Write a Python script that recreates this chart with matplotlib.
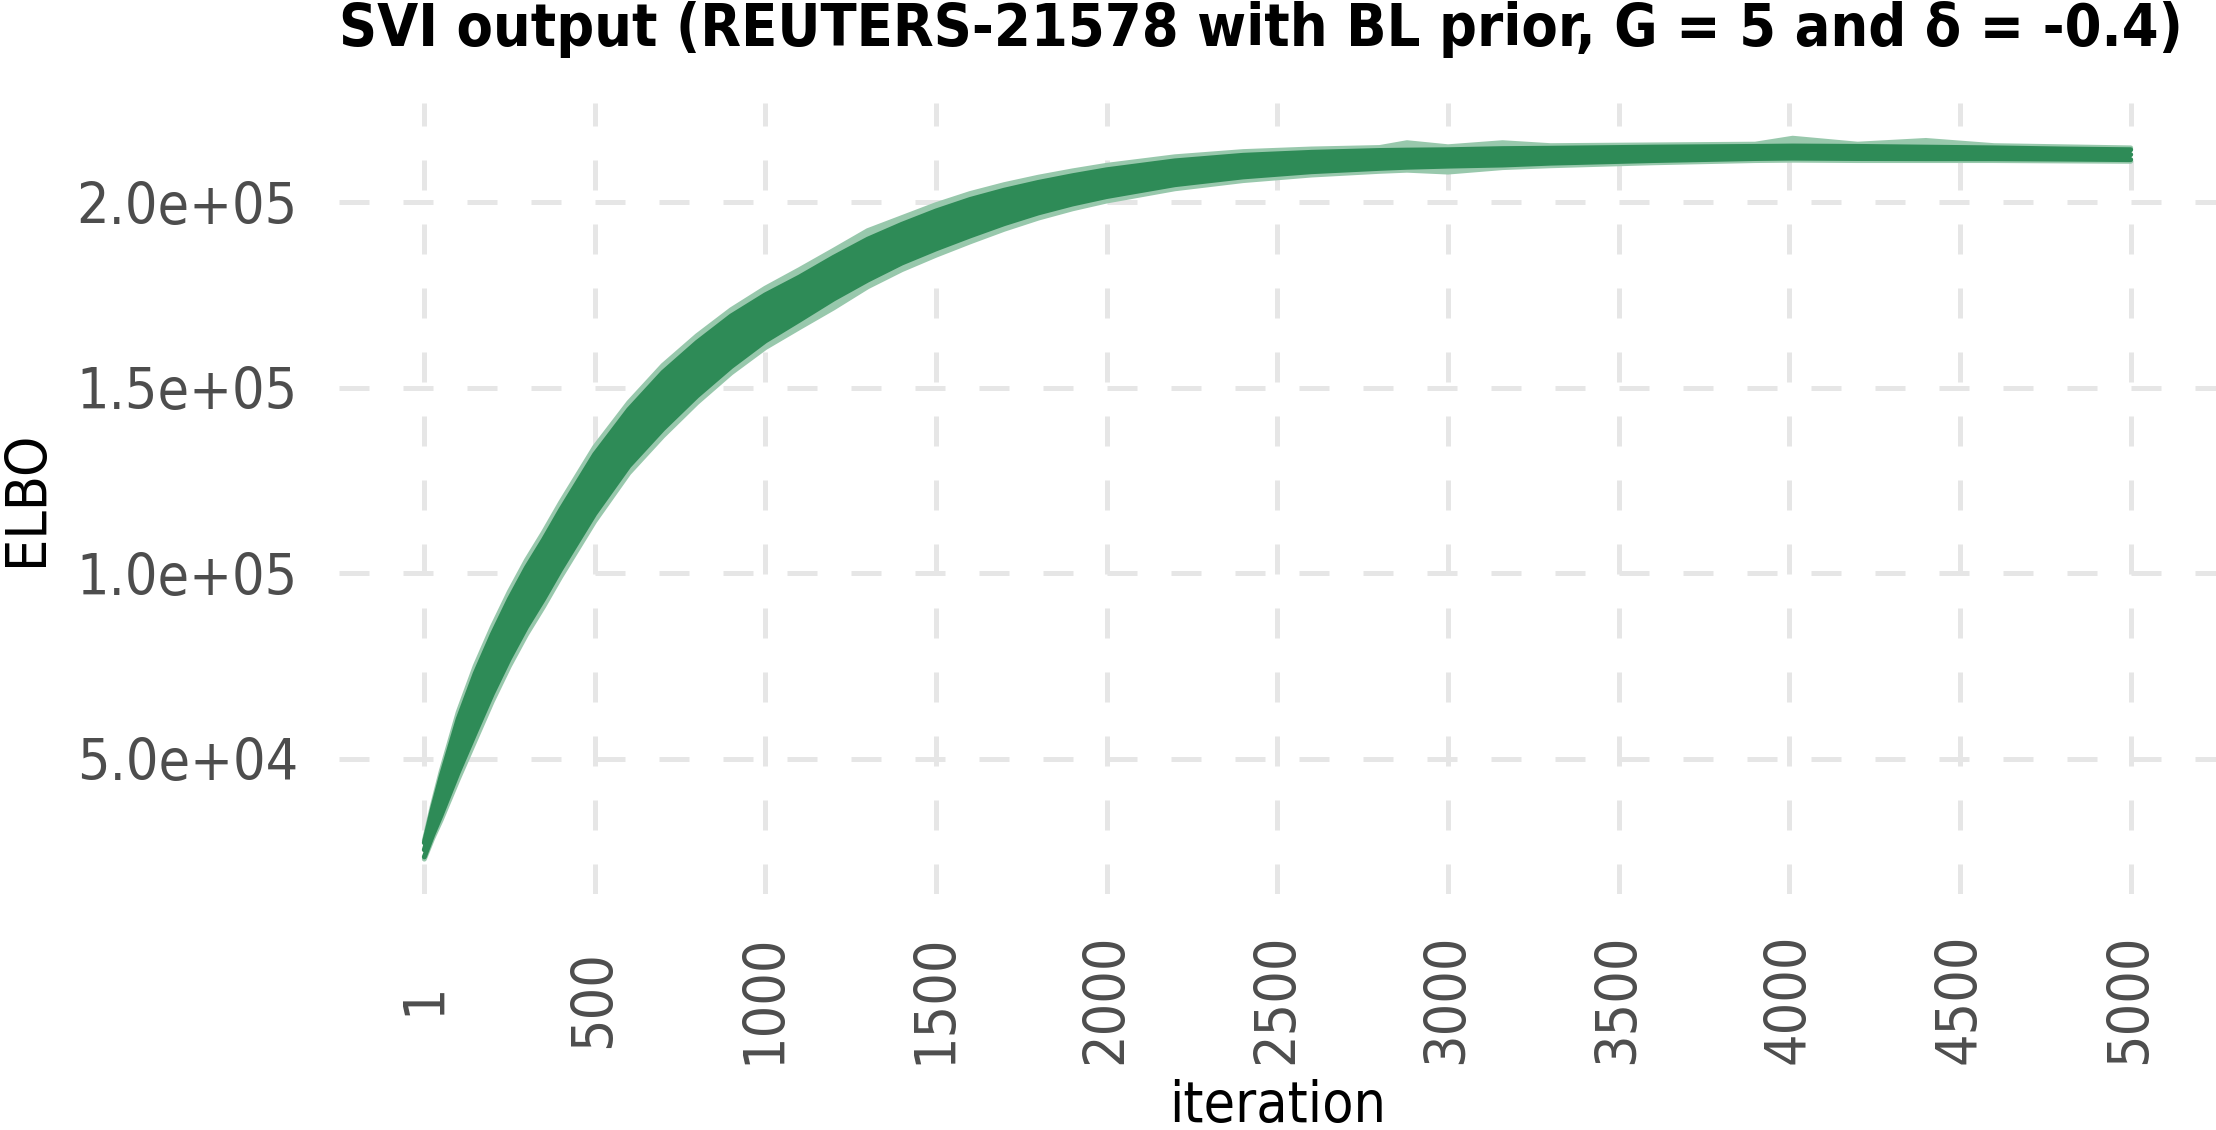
import matplotlib
matplotlib.use("Agg")
import matplotlib.pyplot as plt

# ---------- data ---------- #
ITER = [1, 25, 50, 100, 150, 200, 250, 300, 350, 400,
        450, 500, 600, 700, 800, 900, 1000, 1100, 1200, 1300,
        1400, 1500, 1600, 1700, 1800, 1900, 2000, 2200, 2400, 2600,
        2800, 2880, 3000, 3160, 3300, 3600, 3900, 4010, 4200, 4400,
        4600, 4800, 5000]

# middle of the bundle of runs
ELBO_MID = [25500, 33000, 40000, 53500, 65000, 75500, 85000, 93500, 101000, 109000,
            116500, 124000, 136500, 146500, 155000, 162500, 168800, 174000, 179500, 184500,
            188800, 192500, 195800, 198700, 201200, 203300, 205100, 207900, 209700, 210800,
            211500, 211700, 211900, 212200, 212500, 213000, 213400, 213500, 213400, 213300,
            213200, 213000, 212800]

# outer edge of the bundle (faint runs)
ELBO_HI = [28000, 37500, 46500, 62500, 75000, 85500, 95000, 103500, 111000, 119000,
           126500, 134000, 146000, 156000, 164000, 171000, 176800, 181800, 187000, 192300,
           195800, 199300, 202300, 204700, 206700, 208400, 209900, 212200, 213600, 214300,
           214700, 216000, 214900, 216000, 215200, 215400, 215600, 217200, 215600, 216600,
           215200, 214900, 214600]
ELBO_LO = [23000, 28500, 33500, 44500, 55000, 65500, 75000, 83500, 91000, 99000,
           106500, 114000, 127000, 137000, 146000, 154000, 160800, 166200, 171500, 177200,
           181800, 185700, 189300, 192700, 195700, 198200, 200300, 203600, 205800, 207300,
           208300, 208600, 208100, 209300, 209800, 210600, 211200, 211300, 211200, 211200,
           211200, 211100, 211000]

# dense core where most runs overlap
CORE_HI = [27400, 36600, 45200, 60700, 73000, 83500, 93000, 101500, 109000, 117000,
           124500, 132000, 144100, 154100, 162200, 169300, 175000, 179800, 185100, 190000,
           194000, 197600, 200700, 203200, 205300, 207100, 208700, 211100, 212600, 213400,
           213900, 214000, 214100, 214400, 214500, 214800, 215000, 215100, 215000, 214800,
           214600, 214300, 214100]
CORE_LO = [23600, 29400, 34800, 46300, 57000, 67500, 77000, 85500, 93000, 101000,
           108500, 116000, 128900, 138900, 147800, 155700, 162600, 168200, 173900, 179000,
           183600, 187400, 190900, 194200, 197100, 199500, 201500, 204700, 206800, 208200,
           209100, 209400, 209700, 210000, 210500, 211200, 211750, 211850, 211750, 211700,
           211700, 211600, 211450]

X_TICKS = [1, 500, 1000, 1500, 2000, 2500, 3000, 3500, 4000, 4500, 5000]
X_LABELS = ["1", "500", "1000", "1500", "2000", "2500", "3000", "3500", "4000", "4500", "5000"]
Y_TICKS = [50000, 100000, 150000, 200000]
Y_LABELS = ["5.0e+04", "1.0e+05", "1.5e+05", "2.0e+05"]

TITLE = "SVI output (REUTERS-21578 with BL prior, G = 5 and \u03b4 = -0.4)"

GREEN = "#2E8B57"
LIGHT = "#98C8AC"
GRID = "#E6E6E6"

# ---------- figure ---------- #
plt.rcParams["font.family"] = ["DejaVu Sans"]
plt.rcParams["font.stretch"] = "condensed"

W, H = 2216, 1130
fig = plt.figure(figsize=(W / 100, H / 100), dpi=100)
ax = fig.add_axes([339 / W, (H - 894) / H, (W - 339) / W, (894 - 103) / H])

px = 0.72  # points per pixel at dpi 100

# outer faint band
ax.fill_between(ITER, ELBO_LO, ELBO_HI, color=LIGHT, lw=0, zorder=2)
for s in (ELBO_LO, ELBO_HI):
    ax.plot(ITER, s, color=LIGHT, lw=5 * px, solid_capstyle="round",
            solid_joinstyle="round", zorder=2)

# dense core
ax.fill_between(ITER, CORE_LO, CORE_HI, color=GREEN, lw=0, zorder=3)
for s in (CORE_LO, ELBO_MID, CORE_HI):
    ax.plot(ITER, s, color=GREEN, lw=5 * px, solid_capstyle="round",
            solid_joinstyle="round", zorder=3)

ax.set_xlim(-249, 5250)
ax.set_ylim(13600, 226700)

ax.set_xticks(X_TICKS)
ax.set_xticklabels(X_LABELS, rotation=90, va="center", ha="center")
ax.set_yticks(Y_TICKS)
ax.set_yticklabels(Y_LABELS)
ax.tick_params(axis="both", which="both", length=0, labelsize=41, labelcolor="#4D4D4D")
ax.tick_params(axis="x", pad=105 * px)
ax.tick_params(axis="y", pad=41 * px)

ax.grid(True, which="major", color=GRID, lw=5 * px, linestyle=(0, (6, 6.8)), zorder=0)
ax.set_axisbelow(True)
for sp in ax.spines.values():
    sp.set_visible(False)

fig.text(339 / W, 1 - 46 / H, TITLE, fontsize=42.5, fontweight="bold",
         ha="left", va="baseline", color="black")
fig.text((339 + W) / 2 / W, 8 / H, "iteration", fontsize=41,
         ha="center", va="baseline", color="black")
fig.text(27 / W, 1 - 498 / H, "ELBO", fontsize=41, rotation=90,
         ha="center", va="center", color="black")

fig.savefig("out.png", dpi=100)
